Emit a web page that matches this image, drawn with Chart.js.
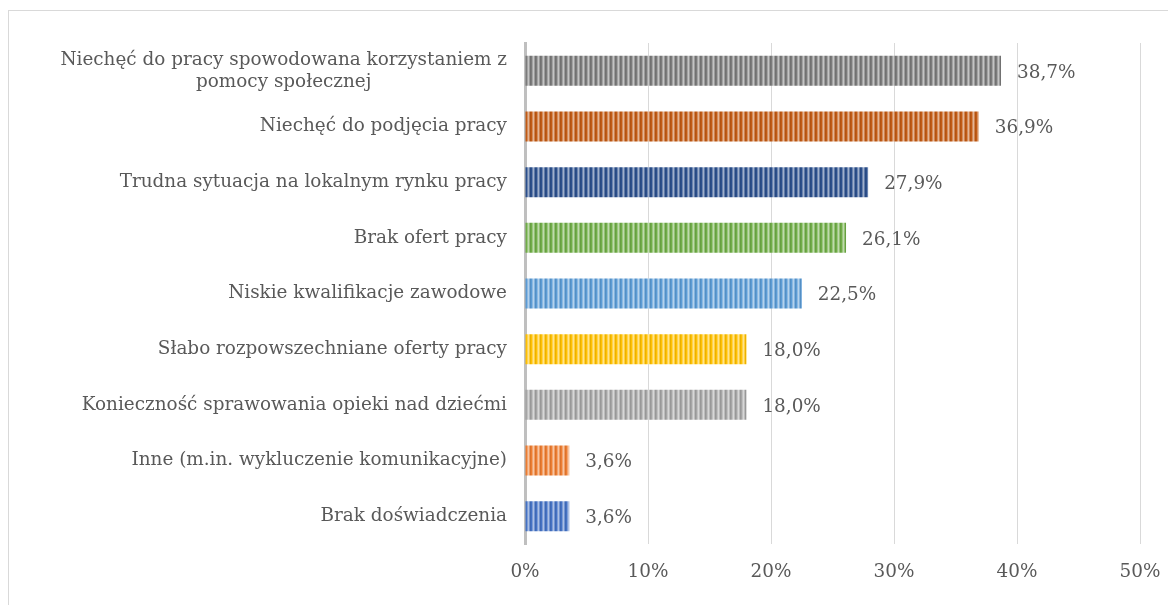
<!DOCTYPE html>
<html lang="pl">
<head>
<meta charset="utf-8">
<title>Przyczyny bezrobocia</title>
<script src="https://cdn.jsdelivr.net/npm/chart.js@4.4.1/dist/chart.umd.min.js"></script>
<style>
  html, body { margin: 0; padding: 0; background: #fff; overflow: hidden; }
  #frame {
    position: absolute; left: 8px; top: 10px; width: 1200px; height: 640px;
    border-top: 1px solid #d9d9d9; border-left: 1px solid #d9d9d9;
  }
  #chart { position: absolute; left: 0; top: 0; }
</style>
</head>
<body>
<div id="frame"></div>
<canvas id="chart" width="1168" height="605"></canvas>
<script>
// ── Data ──
const categories = [
  ['Niechęć do pracy spowodowana korzystaniem z', 'pomocy społecznej'],
  'Niechęć do podjęcia pracy',
  'Trudna sytuacja na lokalnym rynku pracy',
  'Brak ofert pracy',
  'Niskie kwalifikacje zawodowe',
  'Słabo rozpowszechniane oferty pracy',
  'Konieczność sprawowania opieki nad dziećmi',
  'Inne (m.in. wykluczenie komunikacyjne)',
  'Brak doświadczenia'
];
const values = [38.7, 36.9, 27.9, 26.1, 22.5, 18.0, 18.0, 3.6, 3.6];
const barColors = ['#7b7b7b', '#c25a14', '#2b4f8c', '#70ad47', '#5b9bd5', '#ffc000', '#a5a5a5', '#ed7d31', '#4472c4'];
const xTicks = [0, 10, 20, 30, 40, 50];

const FONT = "'DejaVu Serif', 'Liberation Serif', serif";
const FSIZE = 18.4;
const TEXT = '#595959';

// ── Striped fill (vertical stripes like the Excel pattern) ──
function shade(hex, amt) {
  const n = parseInt(hex.slice(1), 16);
  let r = n >> 16, g = (n >> 8) & 255, b = n & 255;
  const f = c => Math.round(amt >= 0 ? c + (255 - c) * amt : c * (1 + amt));
  return `rgb(${f(r)},${f(g)},${f(b)})`;
}
function stripes(hex) {
  const c = document.createElement('canvas');
  c.width = 5; c.height = 1;
  const x = c.getContext('2d');
  [shade(hex, -0.08), hex, shade(hex, 0.3), shade(hex, 0.55), shade(hex, 0.25)].forEach((col, i) => {
    x.fillStyle = col; x.fillRect(i, 0, 1, 1);
  });
  return x.createPattern(c, 'repeat');
}

// ── Plugins: category labels (centered lines, right-aligned block) + value labels ──
const labelPlugin = {
  id: 'labels',
  afterDatasetsDraw(chart) {
    const { ctx, scales: { x, y } } = chart;
    ctx.save();
    ctx.font = `${FSIZE}px ${FONT}`;
    ctx.fillStyle = TEXT;
    ctx.textBaseline = 'middle';
    const lh = 22;
    categories.forEach((cat, i) => {
      const lines = Array.isArray(cat) ? cat : [cat];
      const w = Math.max(...lines.map(l => ctx.measureText(l).width));
      const right = x.left - 18;
      const cy = y.getPixelForValue(i);
      ctx.textAlign = 'center';
      lines.forEach((l, j) => {
        ctx.fillText(l, right - w / 2, cy + (j - (lines.length - 1) / 2) * lh);
      });
    });
    ctx.textAlign = 'left';
    values.forEach((v, i) => {
      const px = x.getPixelForValue(v);
      ctx.fillText(v.toFixed(1).replace('.', ',') + '%', px + 16, y.getPixelForValue(i) + 2);
    });
    ctx.restore();
  }
};

document.addEventListener('DOMContentLoaded', () => {
  const ctx = document.getElementById('chart').getContext('2d');
  new Chart(ctx, {
    type: 'bar',
    data: {
      labels: categories,
      datasets: [{
        data: values,
        backgroundColor: barColors.map(stripes),
        barPercentage: 0.54,
        categoryPercentage: 1
      }]
    },
    options: {
      indexAxis: 'y',
      responsive: false,
      animation: false,
      layout: { padding: { left: 525, right: 28, top: 43, bottom: 0 } },
      plugins: { legend: { display: false }, tooltip: { enabled: false } },
      scales: {
        x: {
          min: 0, max: 50,
          afterBuildTicks: s => { s.ticks = xTicks.map(v => ({ value: v })); },
          afterFit: s => {
            // fixed axis band, no extra overhang padding
            s.height = 61;
            s.paddingLeft = s.paddingRight = s.paddingTop = s.paddingBottom = 0;
          },
          grid: { color: '#d9d9d9', lineWidth: 1, drawTicks: false },
          border: { display: false },
          ticks: { color: TEXT, font: { family: FONT, size: FSIZE }, padding: 17, callback: v => v + '%' }
        },
        y: {
          afterFit: s => {
            s.width = 0;
            s.paddingLeft = s.paddingRight = s.paddingTop = s.paddingBottom = 0;
          },
          ticks: { display: false },
          grid: { display: false },
          border: { display: true, color: '#bfbfbf', width: 3 }
        }
      }
    },
    plugins: [labelPlugin]
  });
});
</script>
</body>
</html>
